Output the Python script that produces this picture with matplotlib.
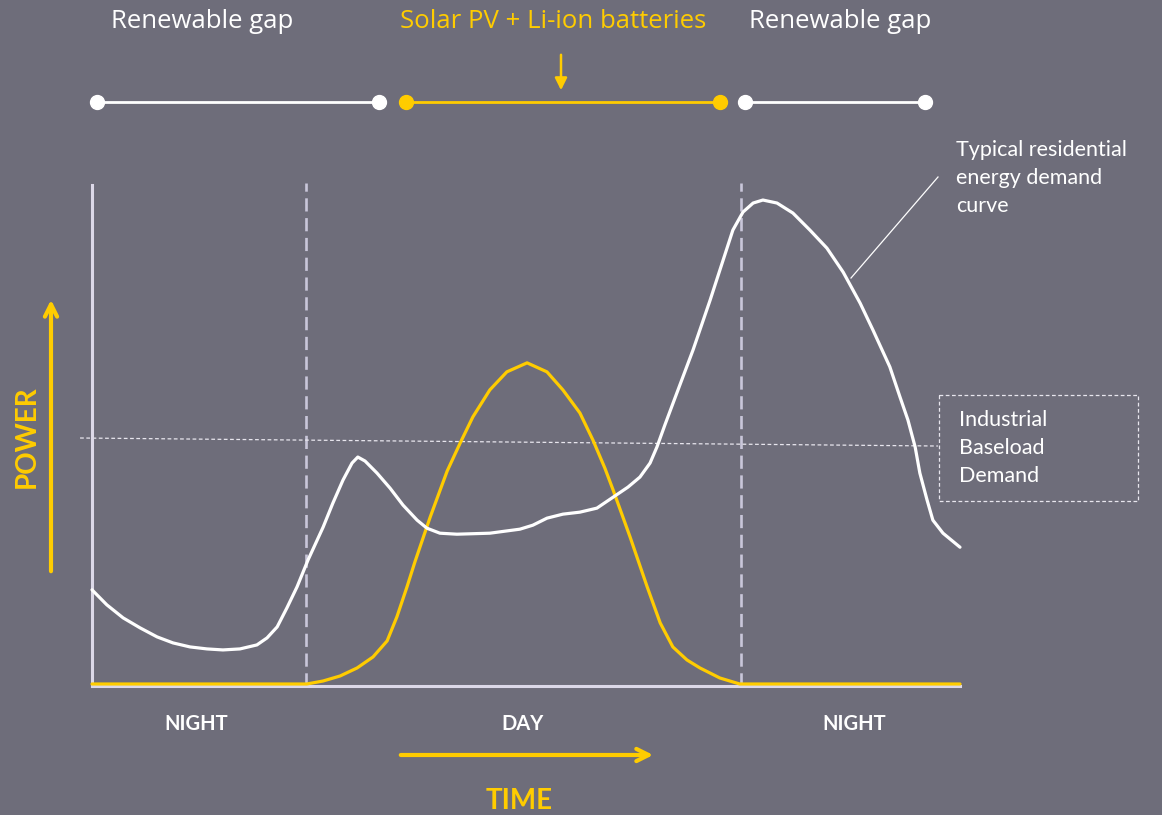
import matplotlib
matplotlib.use('Agg')
import matplotlib.pyplot as plt

# --- data (time of day in hours, power in % of chart height) ---
demand_hours = [0.00, 0.41, 0.86, 1.33, 1.80, 2.24, 2.71, 3.18, 3.62, 4.09,
                4.56, 4.84, 5.12, 5.39, 5.67, 5.97, 6.39, 6.66, 6.94, 7.19,
                7.35, 7.55, 7.88, 8.24, 8.60, 8.99, 9.26, 9.62, 10.09, 11.00,
                11.83, 12.19, 12.58, 13.02, 13.49, 13.96, 14.41, 14.82, 15.15, 15.43,
                15.62, 15.84, 16.12, 16.62, 17.09, 17.45, 17.72, 18.00, 18.28, 18.55,
                18.94, 19.38, 19.85, 20.32, 20.77, 21.24, 21.59, 22.06, 22.34, 22.56,
                22.76, 22.89, 23.09, 23.25, 23.53, 24.00]
demand_power = [19.2, 16.2, 13.6, 11.6, 9.8, 8.6, 7.8, 7.4, 7.2, 7.4,
                8.2, 9.6, 11.8, 15.6, 19.8, 25.1, 31.7, 36.5, 41.1, 44.5,
                45.7, 44.9, 42.5, 39.5, 36.1, 33.1, 31.5, 30.5, 30.3, 30.5,
                31.3, 32.1, 33.5, 34.3, 34.7, 35.5, 37.7, 39.7, 41.7, 44.5,
                47.7, 52.1, 57.5, 67.1, 77.0, 85.0, 91.0, 94.6, 96.4, 97.0,
                96.4, 94.4, 91.0, 87.4, 82.6, 76.4, 71.1, 63.7, 57.7, 53.1,
                47.7, 42.5, 37.1, 33.1, 30.5, 27.7]

solar_hours = [0.00, 5.94, 6.39, 6.86, 7.33, 7.77, 8.16, 8.43, 8.71, 8.93,
               9.35, 9.82, 10.18, 10.53, 11.00, 11.47, 12.03, 12.58, 13.02, 13.49,
               13.85, 14.18, 14.41, 14.88, 15.35, 15.71, 16.06, 16.45, 16.81, 17.36,
               17.91, 24.00]
solar_power = [0.4, 0.4, 1.0, 2.0, 3.6, 5.8, 9.0, 13.8, 19.8, 24.8,
               33.7, 42.9, 48.5, 53.7, 59.1, 62.7, 64.5, 62.7, 59.1, 54.5,
               49.1, 43.5, 39.1, 29.7, 19.8, 12.6, 7.8, 5.2, 3.6, 1.6,
               0.4, 0.4]

day_bounds = [5.92, 17.95]
baseload_hours = [-0.33, 23.39]
baseload_power = [49.5, 47.9]

period_labels = ['NIGHT', 'DAY', 'NIGHT']
period_hours = [2.88, 11.89, 21.07]

gap_segments = [(0.14, 7.94), (8.68, 17.36), (18.05, 23.03)]
gap_labels = ['Renewable gap', 'Solar PV + Li-ion batteries', 'Renewable gap']

BG = '#6e6d7a'
YEL = '#ffcc00'
AXC = '#dcd8e8'
DASHC = '#c9c6da'

plt.rcParams['font.family'] = ['Open Sans', 'DejaVu Sans']

fig = plt.figure(figsize=(11.62, 8.15), dpi=100)
fig.patch.set_facecolor(BG)

# overlay in pixel coordinates for annotations
ov = fig.add_axes([0, 0, 1, 1], zorder=0)
ov.set_xlim(0, 1162)
ov.set_ylim(815, 0)
ov.axis('off')
ov.patch.set_alpha(0)

ax = fig.add_axes([92 / 1162, (815 - 686) / 815, 868 / 1162, 501 / 815], zorder=1)
ax.patch.set_alpha(0)
ax.set_xlim(0, 24)
ax.set_ylim(0, 100)
for s in ['top', 'right']:
    ax.spines[s].set_visible(False)
for s in ['left', 'bottom']:
    ax.spines[s].set_color(AXC)
    ax.spines[s].set_linewidth(2.2)
ax.set_xticks([])
ax.set_yticks([])

# day/night boundaries
for b in day_bounds:
    ax.plot([b, b], [0, 100.4], color=DASHC, lw=1.9, dashes=(5, 2.5), clip_on=False, zorder=2)

# industrial baseload
ax.plot(baseload_hours, baseload_power, color='#e8e6ee', lw=0.9, dashes=(3, 2), clip_on=False, zorder=2)

# curves
ax.plot(solar_hours, solar_power, color=YEL, lw=2.3, solid_capstyle='round',
        solid_joinstyle='round', zorder=4, clip_on=False)
ax.plot(demand_hours, demand_power, color='white', lw=2.3, solid_capstyle='round',
        solid_joinstyle='round', zorder=5, clip_on=False)

# timeline of renewable gaps
tl_y = 116.6
for (a, b), lab in zip(gap_segments, gap_labels):
    c = YEL if 'Solar' in lab else 'white'
    ax.plot([a, b], [tl_y, tl_y], color=c, lw=2.0, marker='o', ms=10, clip_on=False)

# top labels
ov.text(202, 21, gap_labels[0], color='white', fontsize=18.5, ha='center', va='center')
ov.text(553, 21, gap_labels[1], color=YEL, fontsize=18.5, ha='center', va='center')
ov.text(840, 21, gap_labels[2], color='white', fontsize=18.5, ha='center', va='center')
ov.annotate('', xy=(561, 93), xytext=(561, 52),
            arrowprops=dict(arrowstyle='-|>', color=YEL, lw=1.8, mutation_scale=18))

# period labels
for lab, h in zip(period_labels, period_hours):
    ax.text(h, -7.6, lab, color='white', fontsize=14.5, fontweight='bold', family='Lato',
            ha='center', va='center', clip_on=False)

# axis titles
ov.annotate('', xy=(656, 755), xytext=(398, 755),
            arrowprops=dict(arrowstyle='->', color=YEL, lw=3, mutation_scale=22))
ov.text(519, 801, 'TIME', color=YEL, fontsize=20, fontweight='bold', family='Lato',
        ha='center', va='center')
ov.annotate('', xy=(51, 297), xytext=(51, 574),
            arrowprops=dict(arrowstyle='->', color=YEL, lw=3, mutation_scale=22))
ov.text(27, 437, 'POWER', color=YEL, fontsize=20, fontweight='bold', family='Lato',
        rotation=90, ha='center', va='center')

# demand curve callout
ov.plot([938, 851], [177, 278], color='white', lw=0.9)
ov.text(956, 178, 'Typical residential\nenergy demand\ncurve', color='white', fontsize=15.5,
        family='Lato', ha='left', va='center', linespacing=1.5)

# baseload box
ov.add_patch(plt.Rectangle((939, 395), 199, 106, fill=False, edgecolor='#e8e6ee',
                           lw=0.9, linestyle=(0, (3, 2))))
ov.text(959, 448, 'Industrial\nBaseload\nDemand', color='white', fontsize=15.5,
        family='Lato', ha='left', va='center', linespacing=1.5)

fig.savefig('out.png', dpi=100, facecolor=BG)
